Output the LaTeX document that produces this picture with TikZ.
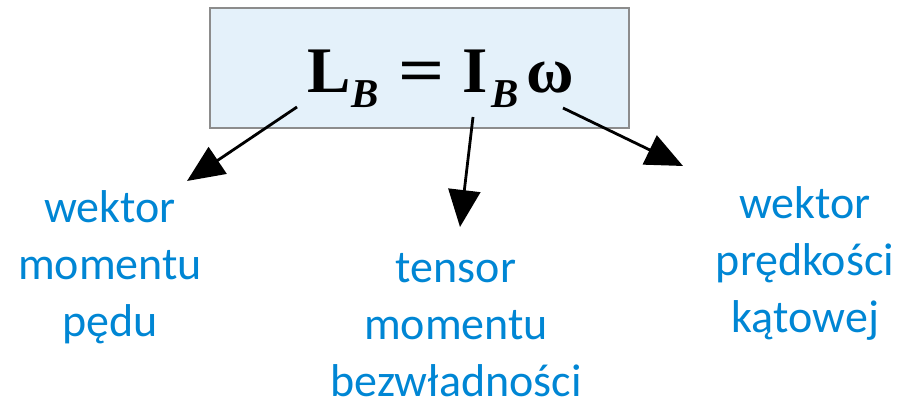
\documentclass[tikz,border=0pt]{standalone}
\usepackage{fontspec}
\setmainfont{Liberation Serif}
\newfontfamily\labelfont{Carlito}
\usetikzlibrary{arrows.meta}
\definecolor{boxfill}{RGB}{228,241,250}
\definecolor{boxline}{RGB}{140,140,140}
\definecolor{labelblue}{RGB}{0,134,212}
\newcommand{\subB}{\raisebox{-15pt}{\fontsize{41}{43}\selectfont\bfseries\itshape B}}
\tikzset{
  eqbox/.style={draw=boxline, line width=2pt, fill=boxfill},
  desc/.style={text=labelblue, align=center, inner sep=0pt,
    font=\labelfont\fontsize{46}{57}\selectfont},
  pointer/.style={line width=2.8pt, -{Triangle[length=37pt,width=32pt]}}
}
\begin{document}
\begin{tikzpicture}[x=1pt,y=-1pt]
\useasboundingbox (0,0) rectangle (900,403);
% formula box
\draw[eqbox] (210,8) rectangle (629,128);
% formula: each symbol set at its own offset from the left end
\node[anchor=base west, inner sep=0pt, font=\fontsize{65}{70}\selectfont\bfseries]
  (eq) at (307,93)
  {\makebox[266pt][l]{%
    \rlap{L}\hspace{44pt}%
    \rlap{\subB}\hspace{47pt}%
    \rlap{\scalebox{1.25}[1]{=}}\hspace{64pt}%
    \rlap{I}\hspace{29pt}%
    \rlap{\subB}\hspace{35pt}%
    \rlap{ω}}};
% labels (base anchor sits on the last line)
\node[desc, anchor=base] (lp) at (110,337) {wektor\\momentu\\pędu};
\node[desc, anchor=base] (li) at (456,396) {tensor\\momentu\\bezwładności};
\node[desc, anchor=base] (lw) at (805,333) {wektor\\prędkości\\kątowej};
% pointer ends
\coordinate (sL) at (297,107);
\coordinate (tL) at (187,181);
\coordinate (sI) at (473,117);
\coordinate (tI) at (460,227);
\coordinate (sW) at (563,108);
\coordinate (tW) at (683,166);
\draw[pointer] (sL) -- (tL);
\draw[pointer] (sI) -- (tI);
\draw[pointer] (sW) -- (tW);
\end{tikzpicture}
\end{document}
